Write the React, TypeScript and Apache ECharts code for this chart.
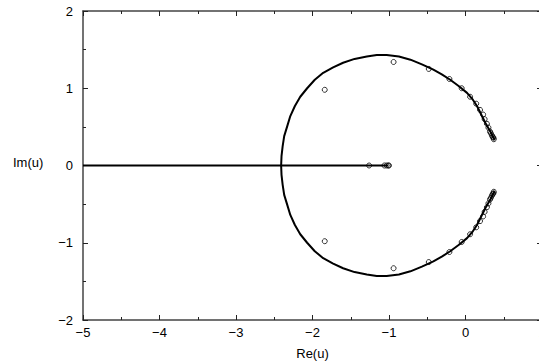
import React, { useEffect, useRef } from "react";
import * as echarts from "echarts";

// Real-axis segment of the locus
const segmentRe = [-5, -1.01];
const segmentIm = [0, 0];

// Upper half of the closed curve (from right end, round to the leftmost point)
const upperArcRe = [0.38, 0.33, 0.26, 0.15, 0.09, 0.02, -0.09, -0.2, -0.31, -0.42, -0.57, -0.72, -0.87, -1.03, -1.16, -1.29, -1.45, -1.6, -1.73, -1.86, -1.97, -2.07, -2.16, -2.23, -2.29, -2.33, -2.37, -2.39, -2.405, -2.41];
const upperArcIm = [0.33, 0.43, 0.55, 0.77, 0.86, 0.94, 1.03, 1.11, 1.18, 1.24, 1.31, 1.37, 1.41, 1.43, 1.43, 1.41, 1.38, 1.33, 1.27, 1.2, 1.11, 1.0, 0.89, 0.77, 0.64, 0.51, 0.38, 0.25, 0.12, 0.0];
// Lower half (from the leftmost point back to the right end)
const lowerArcRe = [-2.41, -2.405, -2.39, -2.37, -2.33, -2.29, -2.23, -2.16, -2.07, -1.97, -1.86, -1.73, -1.6, -1.45, -1.29, -1.16, -1.03, -0.87, -0.72, -0.57, -0.42, -0.31, -0.2, -0.09, 0.02, 0.09, 0.15, 0.26, 0.33, 0.38];
const lowerArcIm = [0.0, -0.12, -0.25, -0.38, -0.51, -0.64, -0.77, -0.89, -1.0, -1.11, -1.2, -1.27, -1.33, -1.38, -1.41, -1.43, -1.43, -1.41, -1.37, -1.31, -1.24, -1.18, -1.11, -1.03, -0.94, -0.86, -0.77, -0.55, -0.43, -0.33];

// Hollow-circle points
const upperPtsRe = [-1.84, -0.94, -0.48, -0.21, -0.05, 0.06, 0.14, 0.19, 0.23, 0.25, 0.28, 0.3, 0.32, 0.33, 0.345, 0.355, 0.365, 0.37];
const upperPtsIm = [0.98, 1.34, 1.25, 1.12, 1.0, 0.89, 0.8, 0.72, 0.66, 0.6, 0.54, 0.49, 0.44, 0.42, 0.39, 0.37, 0.36, 0.34];
const lowerPtsRe = [-1.84, -0.94, -0.48, -0.21, -0.05, 0.06, 0.14, 0.19, 0.23, 0.25, 0.28, 0.3, 0.32, 0.33, 0.345, 0.355, 0.365, 0.37];
const lowerPtsIm = [-0.98, -1.33, -1.25, -1.12, -0.99, -0.89, -0.8, -0.72, -0.66, -0.6, -0.54, -0.49, -0.44, -0.42, -0.39, -0.37, -0.36, -0.34];
const axisPtsRe = [-1.26, -1.06, -1.03, -1.01, -1.0];
const axisPtsIm = [0, 0, 0, 0, 0];

const xTicks = [-5, -4, -3, -2, -1, 0, 1];
const yTicks = [-2, -1, 0, 1, 2];

const zip = (a: number[], b: number[]) => a.map((v, i) => [v, b[i]]);
const fmt = (v: number) => (v < 0 ? "\u2212" + Math.abs(v) : String(v));

export default function App() {
  const ref = useRef<HTMLDivElement>(null);
  useEffect(() => {
    if (!ref.current) return;
    const chart = echarts.init(ref.current, null, { renderer: "svg" });
    const frame = { show: true, onZero: false, lineStyle: { color: "#444", width: 1.5 } };
    const tick = { show: true, inside: true, length: 5, lineStyle: { color: "#222", width: 1 } };
    const minor = { show: true, splitNumber: 2, length: 3, lineStyle: { color: "#222", width: 1 } };
    const font = { fontFamily: "Liberation Sans, Arial, sans-serif", fontSize: 13, color: "#000" };
    chart.setOption({
      animation: false,
      grid: { left: 83, top: 11, width: 459, height: 309, containLabel: false, outerBoundsMode: "none" },
      xAxis: [
        {
          type: "value",
          position: "bottom",
          min: xTicks[0],
          max: xTicks[xTicks.length - 1],
          interval: 1,
          axisLine: frame,
          axisTick: tick,
          minorTick: minor,
          splitLine: { show: false },
          axisLabel: { ...font, margin: 6, formatter: fmt },
          name: "Re(u)",
          nameLocation: "middle",
          nameGap: 27,
          nameTextStyle: { ...font },
        },
        {
          type: "value",
          position: "top",
          min: xTicks[0],
          max: xTicks[xTicks.length - 1],
          interval: 1,
          axisLine: frame,
          axisTick: tick,
          minorTick: minor,
          splitLine: { show: false },
          axisLabel: { show: false },
        },
      ],
      yAxis: [
        {
          type: "value",
          position: "left",
          min: yTicks[0],
          max: yTicks[yTicks.length - 1],
          interval: 1,
          axisLine: frame,
          axisTick: tick,
          minorTick: minor,
          splitLine: { show: false },
          axisLabel: { ...font, margin: 10, formatter: fmt },
        },
        {
          type: "value",
          position: "right",
          min: yTicks[0],
          max: yTicks[yTicks.length - 1],
          interval: 1,
          axisLine: frame,
          axisTick: tick,
          minorTick: minor,
          splitLine: { show: false },
          axisLabel: { show: false },
        },
      ],
      graphic: [
        {
          type: "text",
          left: 13,
          top: 156,
          style: { text: "Im(u)", fill: "#000", font: "13px 'Liberation Sans', Arial, sans-serif" },
        },
      ],
      series: [
        {
          type: "line",
          data: zip(segmentRe, segmentIm),
          showSymbol: false,
          lineStyle: { color: "#000", width: 2 },
        },
        {
          type: "line",
          data: zip(upperArcRe, upperArcIm).concat(zip(lowerArcRe, lowerArcIm).slice(1)),
          showSymbol: false,
          lineStyle: { color: "#000", width: 2 },
        },
        {
          type: "scatter",
          data: zip(upperPtsRe, upperPtsIm)
            .concat(zip(lowerPtsRe, lowerPtsIm))
            .concat(zip(axisPtsRe, axisPtsIm)),
          symbol: "circle",
          symbolSize: 5,
          itemStyle: { color: "none", borderColor: "#000", borderWidth: 1 },
        },
      ],
    });
    return () => chart.dispose();
  }, []);
  return (
    <div
      ref={ref}
      style={{ position: "fixed", left: 0, top: 0, width: 539, height: 364, background: "#fff" }}
    />
  );
}
